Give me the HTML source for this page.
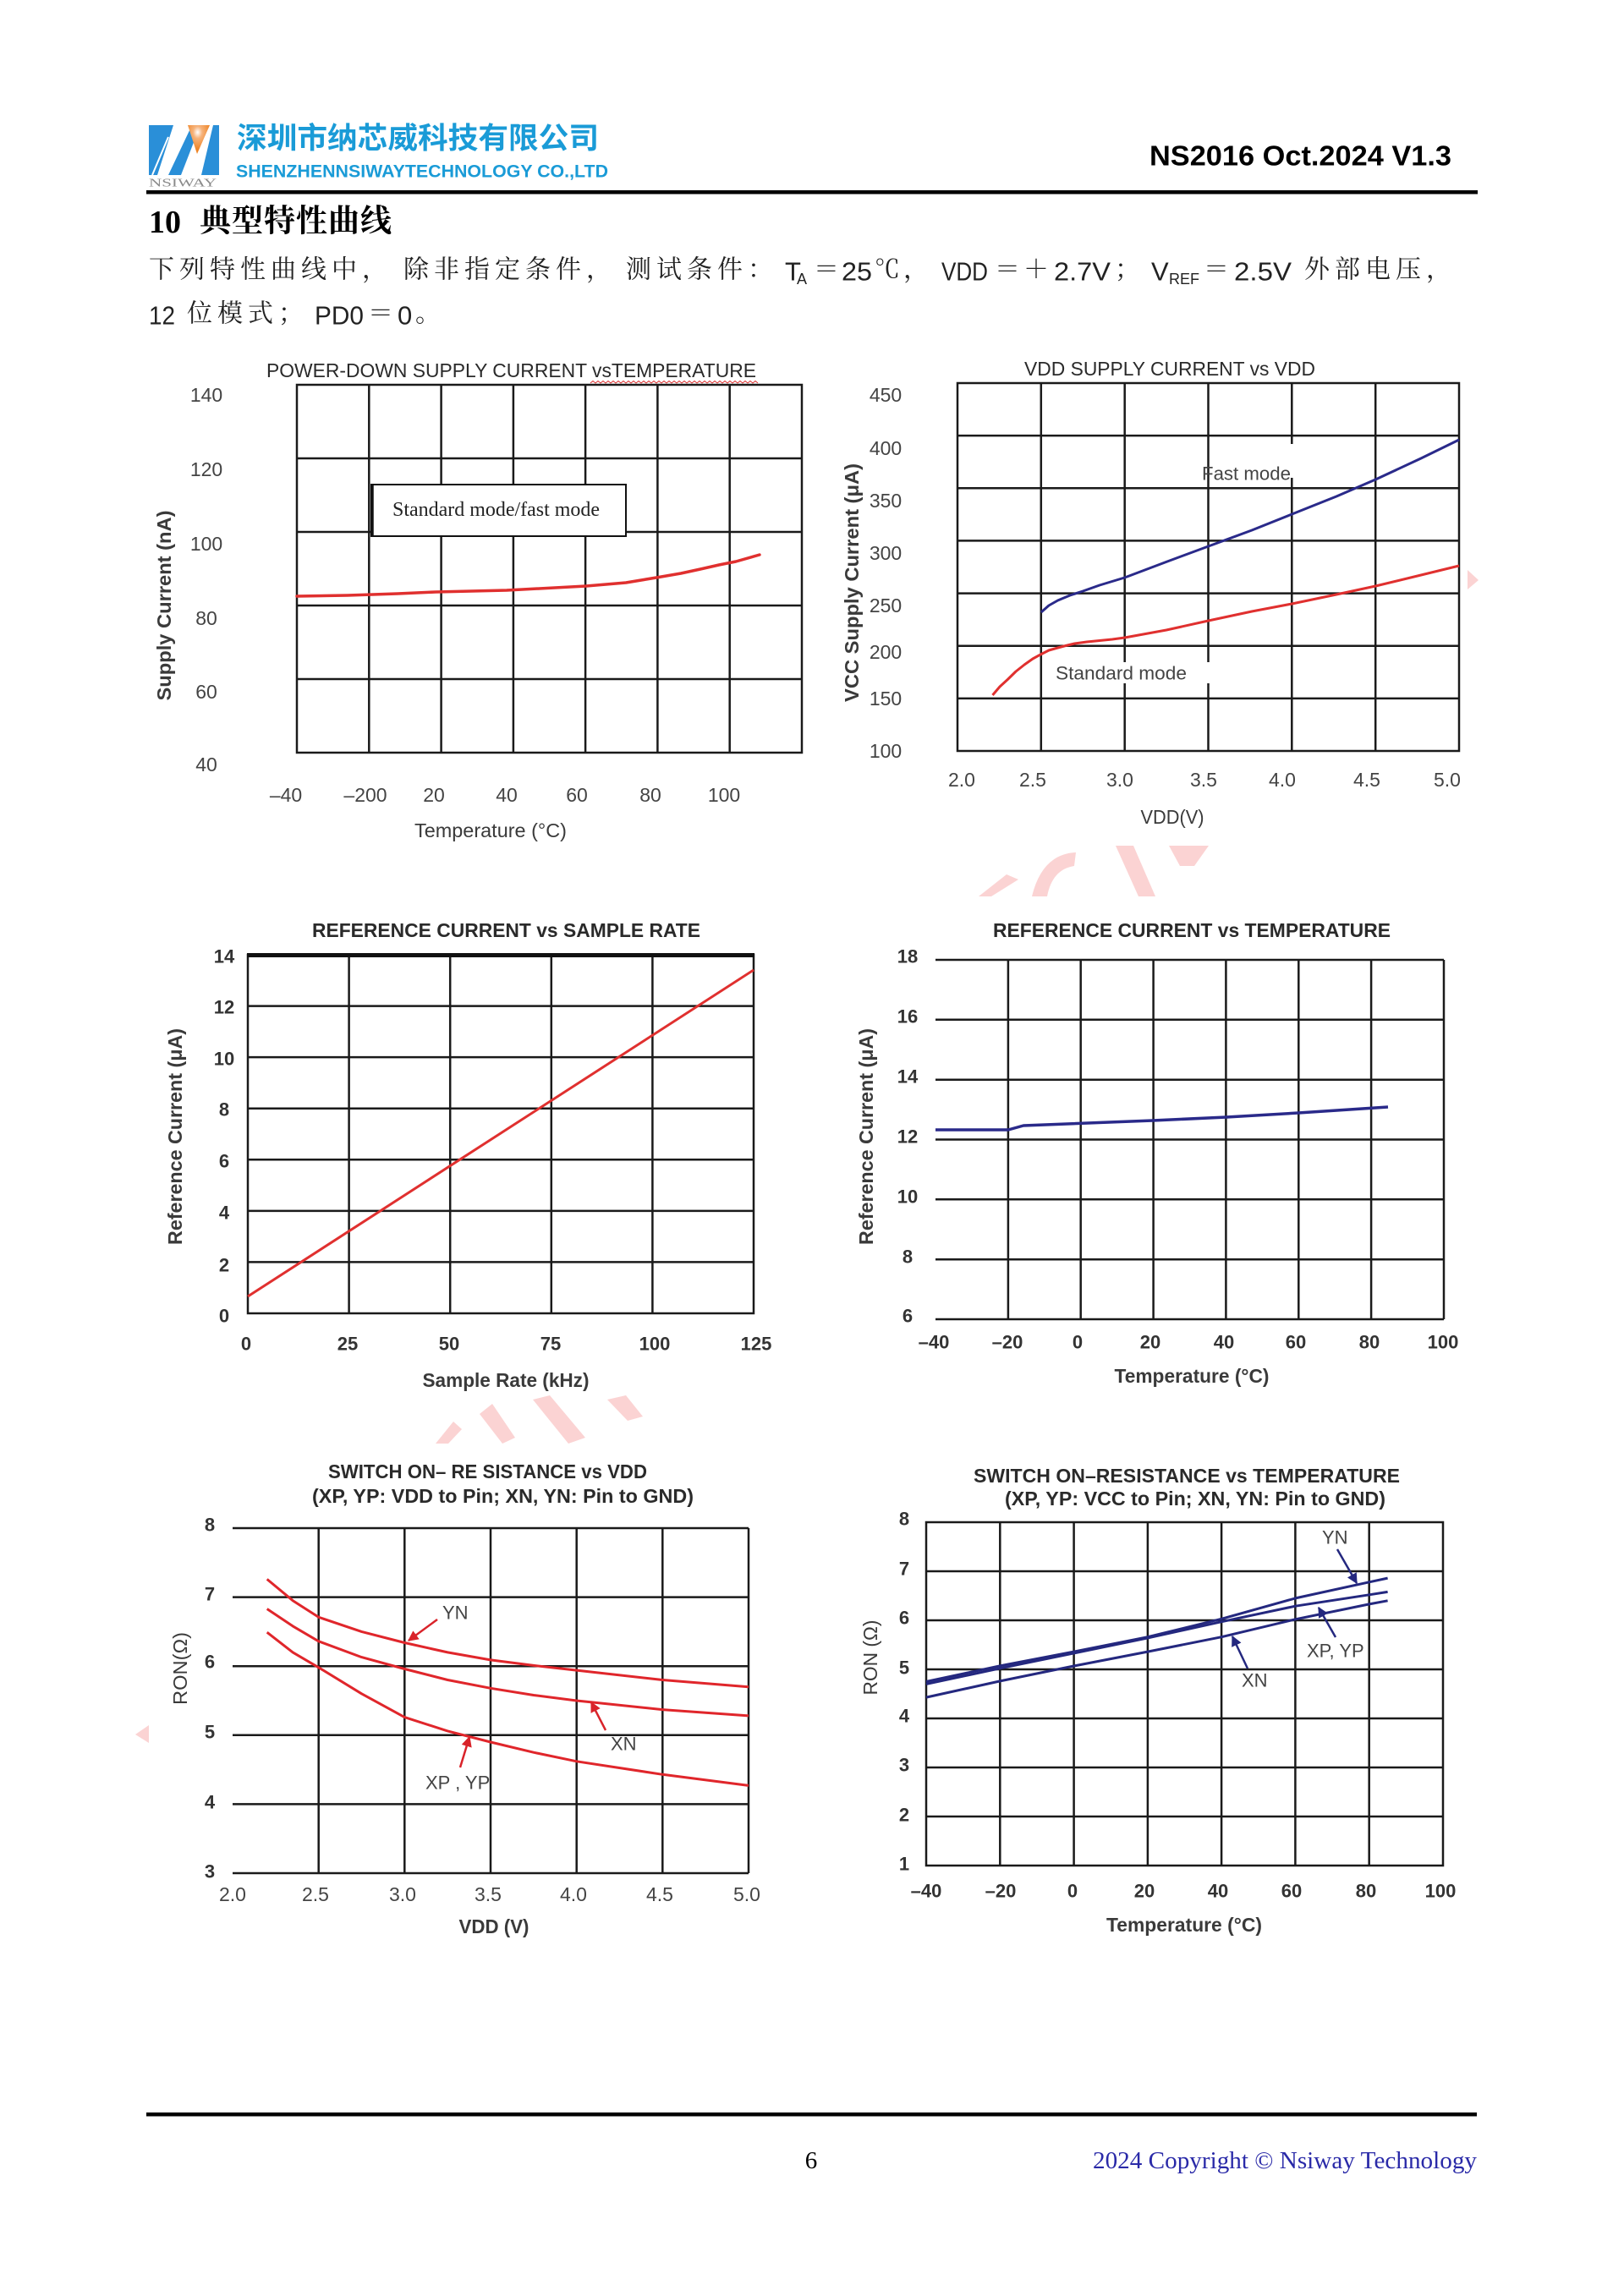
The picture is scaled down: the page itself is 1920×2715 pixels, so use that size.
<!DOCTYPE html>
<html>
<head>
<meta charset="utf-8">
<style>
html,body{margin:0;padding:0;background:#fff;}
svg{display:block;}
.s{font-family:"Liberation Sans",Arial,sans-serif;}
.sf{font-family:"Liberation Serif","Times New Roman",serif;}
.cjk{font-family:"Liberation Serif","Noto Serif CJK SC",serif;}
.cjks{font-family:"Liberation Sans","Noto Sans CJK SC",sans-serif;}
.tk{font-family:"Liberation Sans",Arial,sans-serif;font-size:23px;fill:#444;text-anchor:middle;dominant-baseline:central;}
.tkb{font-family:"Liberation Sans",Arial,sans-serif;font-size:22px;fill:#333;font-weight:bold;text-anchor:middle;dominant-baseline:central;}
.ttl{font-family:"Liberation Sans",Arial,sans-serif;font-size:23px;fill:#2a2a2a;dominant-baseline:central;}
.ax{font-family:"Liberation Sans",Arial,sans-serif;font-size:23px;fill:#3a3a3a;dominant-baseline:central;text-anchor:middle;}
.lb{font-family:"Liberation Sans",Arial,sans-serif;font-size:22px;fill:#444;dominant-baseline:central;}
.g{stroke:#1a1a1a;stroke-width:2.5;fill:none;}
</style>
</head>
<body>
<svg width="1920" height="2715" viewBox="0 0 1920 2715" xmlns="http://www.w3.org/2000/svg">
<defs>
<marker id="ar" viewBox="0 0 10 10" refX="9" refY="5" markerWidth="5" markerHeight="5" orient="auto"><path d="M0,0 L10,5 L0,10 z" fill="#d9232a"/></marker>
<marker id="ab" viewBox="0 0 10 10" refX="9" refY="5" markerWidth="5" markerHeight="5" orient="auto"><path d="M0,0 L10,5 L0,10 z" fill="#24287f"/></marker>
<radialGradient id="glow" cx="0.45" cy="0.25" r="0.6"><stop offset="0" stop-color="#fff"/><stop offset="0.35" stop-color="#f6b27a"/><stop offset="1" stop-color="#ee8425"/></radialGradient>
</defs>
<rect x="0" y="0" width="1920" height="2715" fill="#fff"/>

<!-- watermark fragments -->
<g fill="#fbd3d3">
<polygon points="1157,1060 1190,1034 1204,1040 1172,1060"/>
<path d="M1220,1060 Q1232,1010 1272,1008 L1270,1024 Q1244,1028 1238,1060 z"/>
<polygon points="1319,1000 1340,1000 1366,1060 1346,1060"/>
<polygon points="1382,1000 1429,1000 1412,1024 1395,1024"/>
<polygon points="515,1707 536,1681 546,1690 530,1707"/>
<polygon points="567,1672 582,1660 609,1700 594,1707"/>
<polygon points="630,1655 650,1650 692,1700 672,1707"/>
<polygon points="718,1655 740,1650 760,1675 742,1680"/>
<polygon points="1735,674 1748,686 1735,697"/>
<polygon points="176,2040 160,2051 176,2061"/>
</g>

<!-- HEADER -->
<g>
<polygon points="176,148 205,148 186,207 176,207" fill="#2a8fd8"/>
<polygon points="199,207 214,207 233,158 226,150" fill="#2a8fd8"/>
<polygon points="222,148 248,148 233,182" fill="url(#glow)"/>
<polygon points="238,207 259,207 259,148 252,148" fill="#2a8fd8"/>
<line x1="180" y1="207" x2="199" y2="162" stroke="#fff" stroke-width="2"/>
<text x="176" y="217" class="sf" font-size="14" fill="#8a8a8a" textLength="80" lengthAdjust="spacingAndGlyphs" dominant-baseline="central">NSIWAY</text>
</g>
<text x="280" y="164" class="cjks" font-size="35" font-weight="bold" fill="#1a9bd7" textLength="428" lengthAdjust="spacingAndGlyphs" dominant-baseline="central">深圳市纳芯威科技有限公司</text>
<text x="279" y="203" class="s" font-size="21" font-weight="bold" fill="#1a9bd7" textLength="440" lengthAdjust="spacingAndGlyphs" dominant-baseline="central">SHENZHENNSIWAYTECHNOLOGY CO.,LTD</text>
<text x="1359" y="184" class="s" font-size="33" font-weight="bold" fill="#000" textLength="357" lengthAdjust="spacingAndGlyphs" dominant-baseline="central">NS2016 Oct.2024 V1.3</text>
<rect x="173" y="225" width="1574" height="4.5" fill="#000"/>

<!-- Section heading -->
<text x="176" y="263" class="sf" font-size="38" font-weight="bold" fill="#000" dominant-baseline="central">10</text>
<text x="236 274 312 350 388 426" y="262" class="cjk" font-size="37" font-weight="bold" fill="#000" dominant-baseline="central">典型特性曲线</text>

<!-- Line 2 -->
<g fill="#222" dominant-baseline="central">
<text x="176 212 248 284 320 356 392 428" y="319" class="cjk" font-size="30">下列特性曲线中，</text>
<text x="477 513 549 585 621 657 693" y="319" class="cjk" font-size="30">除非指定条件，</text>
<text x="740 776 812 848 884" y="319" class="cjk" font-size="30">测试条件：</text>
<text x="928" y="321" class="s" font-size="31">T</text>
<text x="942" y="330" class="s" font-size="18">A</text>
<text x="962" y="319" class="cjk" font-size="30">＝</text>
<text x="995" y="321" class="s" font-size="31" textLength="36" lengthAdjust="spacingAndGlyphs">25</text>
<text x="1034" y="319" class="cjk" font-size="30">℃</text>
<text x="1068" y="319" class="cjk" font-size="30">，</text>
<text x="1113" y="321" class="s" font-size="31" textLength="55" lengthAdjust="spacingAndGlyphs">VDD</text>
<text x="1176" y="319" class="cjk" font-size="30">＝</text>
<text x="1210" y="319" class="cjk" font-size="30">＋</text>
<text x="1246" y="321" class="s" font-size="31" textLength="67" lengthAdjust="spacingAndGlyphs">2.7V</text>
<text x="1318" y="319" class="cjk" font-size="30">；</text>
<text x="1361" y="321" class="s" font-size="31">V</text>
<text x="1382" y="330" class="s" font-size="18" textLength="36" lengthAdjust="spacingAndGlyphs">REF</text>
<text x="1423" y="319" class="cjk" font-size="30">＝</text>
<text x="1459" y="321" class="s" font-size="31" textLength="68" lengthAdjust="spacingAndGlyphs">2.5V</text>
<text x="1542 1578 1614 1650 1686" y="319" class="cjk" font-size="30">外部电压，</text>
<!-- Line 3 -->
<text x="176" y="373" class="s" font-size="31" textLength="31" lengthAdjust="spacingAndGlyphs">12</text>
<text x="221 257 293 329" y="371" class="cjk" font-size="30">位模式；</text>
<text x="372" y="373" class="s" font-size="31" textLength="58" lengthAdjust="spacingAndGlyphs">PD0</text>
<text x="435" y="371" class="cjk" font-size="30">＝</text>
<text x="470" y="373" class="s" font-size="31">0</text>
<text x="491" y="371" class="cjk" font-size="30">。</text>
</g>

<!-- ============ CHART 1 ============ -->
<text x="315" y="438" class="ttl" textLength="579" lengthAdjust="spacingAndGlyphs">POWER-DOWN SUPPLY CURRENT vsTEMPERATURE</text>
<path d="M698,453 l3,-2.5 l3,2.5 l3,-2.5 l3,2.5 l3,-2.5 l3,2.5 l3,-2.5 l3,2.5 l3,-2.5 l3,2.5 l3,-2.5 l3,2.5 l3,-2.5 l3,2.5 l3,-2.5 l3,2.5 l3,-2.5 l3,2.5 l3,-2.5 l3,2.5 l3,-2.5 l3,2.5 l3,-2.5 l3,2.5 l3,-2.5 l3,2.5 l3,-2.5 l3,2.5 l3,-2.5 l3,2.5 l3,-2.5 l3,2.5 l3,-2.5 l3,2.5 l3,-2.5 l3,2.5 l3,-2.5 l3,2.5 l3,-2.5 l3,2.5 l3,-2.5 l3,2.5 l3,-2.5 l3,2.5 l3,-2.5 l3,2.5 l3,-2.5 l3,2.5 l3,-2.5 l3,2.5 l3,-2.5 l3,2.5 l3,-2.5 l3,2.5 l3,-2.5 l3,2.5 l3,-2.5 l3,2.5 l3,-2.5 l3,2.5 l3,-2.5 l3,2.5 l3,-2.5 l3,2.5 l3,-2.5 l3,2.5" stroke="#d33" stroke-width="1" fill="none"/>
<g class="g">
<rect x="351" y="455" width="597" height="435"/>
<path d="M436.3,455V890 M521.6,455V890 M606.9,455V890 M692.1,455V890 M777.4,455V890 M862.7,455V890"/>
<path d="M351,542H948 M351,629H948 M351,716H948 M351,803H948"/>
</g>
<rect x="439" y="573" width="301" height="61" fill="#fff" stroke="#111" stroke-width="2"/>
<line x1="440" y1="573" x2="440" y2="634" stroke="#111" stroke-width="3.5"/>
<text x="464" y="603" class="sf" font-size="24" fill="#222" textLength="245" lengthAdjust="spacingAndGlyphs" dominant-baseline="central">Standard  mode/fast mode</text>
<polyline points="351,705 411,704 470,702 515,700 599,698 693,693 740,689 776,683 805,678 828,673 850,668 870,664 898,656" fill="none" stroke="#e0302f" stroke-width="3.5" stroke-linejoin="round" stroke-linecap="round"/>
<g class="tk">
<text x="244" y="467">140</text><text x="244" y="555">120</text><text x="244" y="643">100</text>
<text x="244" y="731">80</text><text x="244" y="818">60</text><text x="244" y="904">40</text>
<text x="338" y="940">–40</text><text x="432" y="940">–200</text><text x="513" y="940">20</text>
<text x="599" y="940">40</text><text x="682" y="940">60</text><text x="769" y="940">80</text><text x="856" y="940">100</text>
</g>
<text x="580" y="982" class="ax" textLength="180" lengthAdjust="spacingAndGlyphs">Temperature (°C)</text>
<text x="0" y="0" class="ax" font-weight="bold" transform="translate(194,716) rotate(-90)" textLength="225" lengthAdjust="spacingAndGlyphs">Supply Current (nA)</text>

<!-- ============ CHART 2 ============ -->
<text x="1211" y="436" class="ttl" textLength="344" lengthAdjust="spacingAndGlyphs">VDD  SUPPLY CURRENT vs VDD</text>
<g class="g">
<rect x="1132" y="453" width="593" height="435"/>
<path d="M1230.8,453V888 M1329.7,453V888 M1428.5,453V888 M1527.3,453V888 M1626.2,453V888"/>
<path d="M1132,515.1H1725 M1132,577.3H1725 M1132,639.4H1725 M1132,701.6H1725 M1132,763.7H1725 M1132,825.9H1725"/>
</g>
<rect x="1244" y="783" width="188" height="25" fill="#fff"/>
<rect x="1520" y="525" width="12" height="40" fill="#fff"/>
<polyline points="1230.9,724 1240,716 1250.6,710 1265,704 1280.3,699 1300,692 1329.7,683 1380,664 1428.6,646 1480,627 1527.4,608 1580,587 1626.3,567 1680,542 1725,520" fill="none" stroke="#2a2a8a" stroke-width="3" stroke-linejoin="round"/>
<polyline points="1173.5,822 1182,812 1191.3,803.5 1201,794 1211.1,786 1221,779 1230.9,773.6 1240,769 1250.6,766 1260,763.5 1270.4,761 1285,759 1300,757.5 1315,756 1329.7,754 1379,745 1428.6,734 1480,723 1527.4,714 1580,703 1626.3,693 1680,680 1725,669" fill="none" stroke="#e0302f" stroke-width="3" stroke-linejoin="round"/>
<text x="1421" y="560" class="lb" textLength="105" lengthAdjust="spacingAndGlyphs">Fast mode</text>
<text x="1248" y="796" class="lb" textLength="155" lengthAdjust="spacingAndGlyphs">Standard mode</text>
<g class="tk">
<text x="1047" y="467">450</text><text x="1047" y="530">400</text><text x="1047" y="592">350</text>
<text x="1047" y="654">300</text><text x="1047" y="716">250</text><text x="1047" y="771">200</text>
<text x="1047" y="826">150</text><text x="1047" y="888">100</text>
<text x="1137" y="922">2.0</text><text x="1221" y="922">2.5</text><text x="1324" y="922">3.0</text>
<text x="1423" y="922">3.5</text><text x="1516" y="922">4.0</text><text x="1616" y="922">4.5</text><text x="1711" y="922">5.0</text>
</g>
<text x="1386" y="966" class="ax" textLength="75" lengthAdjust="spacingAndGlyphs">VDD(V)</text>
<text x="0" y="0" class="ax" font-weight="bold" transform="translate(1007,689) rotate(-90)" textLength="282" lengthAdjust="spacingAndGlyphs">VCC Supply Current (μA)</text>

<!-- ============ CHART 3 ============ -->
<text x="369" y="1100" class="ttl" font-weight="bold" textLength="459" lengthAdjust="spacingAndGlyphs">REFERENCE CURRENT vs SAMPLE RATE</text>
<g class="g">
<rect x="293" y="1129" width="598" height="424"/>
<path d="M412.6,1129V1553 M532.2,1129V1553 M651.8,1129V1553 M771.4,1129V1553"/>
<path d="M293,1189.6H891 M293,1250.1H891 M293,1310.7H891 M293,1371.3H891 M293,1431.9H891 M293,1492.4H891"/>
</g>
<rect x="292" y="1127" width="600" height="5" fill="#111"/>
<line x1="293" y1="1533" x2="891" y2="1147" stroke="#e0302f" stroke-width="3"/>
<g class="tkb">
<text x="265" y="1131">14</text><text x="265" y="1191">12</text><text x="265" y="1252">10</text>
<text x="265" y="1312">8</text><text x="265" y="1373">6</text><text x="265" y="1434">4</text>
<text x="265" y="1496">2</text><text x="265" y="1556">0</text>
<text x="291" y="1589">0</text><text x="411" y="1589">25</text><text x="531" y="1589">50</text>
<text x="651" y="1589">75</text><text x="774" y="1589">100</text><text x="894" y="1589">125</text>
</g>
<text x="598" y="1632" class="ax" font-weight="bold" textLength="197" lengthAdjust="spacingAndGlyphs">Sample Rate (kHz)</text>
<text x="0" y="0" class="ax" font-weight="bold" transform="translate(207,1344) rotate(-90)" textLength="256" lengthAdjust="spacingAndGlyphs">Reference Current (μA)</text>

<!-- ============ CHART 4 ============ -->
<text x="1174" y="1100" class="ttl" font-weight="bold" textLength="470" lengthAdjust="spacingAndGlyphs">REFERENCE CURRENT vs TEMPERATURE</text>
<g class="g">
<path d="M1106,1135H1707 M1106,1205.8H1707 M1106,1276.7H1707 M1106,1347.5H1707 M1106,1418.3H1707 M1106,1489.2H1707 M1106,1560H1707"/>
<path d="M1191.9,1135V1560 M1277.7,1135V1560 M1363.6,1135V1560 M1449.4,1135V1560 M1535.3,1135V1560 M1621.1,1135V1560 M1707,1135V1560"/>
</g>
<polyline points="1106,1336 1192,1336 1210,1331 1363,1325 1450,1321 1535,1316 1641,1309" fill="none" stroke="#2a2a8a" stroke-width="3.5" stroke-linejoin="round"/>
<g class="tkb">
<text x="1073" y="1131">18</text><text x="1073" y="1202">16</text><text x="1073" y="1273">14</text>
<text x="1073" y="1344">12</text><text x="1073" y="1415">10</text><text x="1073" y="1486">8</text><text x="1073" y="1556">6</text>
<text x="1104" y="1587">–40</text><text x="1191" y="1587">–20</text><text x="1274" y="1587">0</text>
<text x="1360" y="1587">20</text><text x="1447" y="1587">40</text><text x="1532" y="1587">60</text>
<text x="1619" y="1587">80</text><text x="1706" y="1587">100</text>
</g>
<text x="1409" y="1627" class="ax" font-weight="bold" textLength="183" lengthAdjust="spacingAndGlyphs">Temperature (°C)</text>
<text x="0" y="0" class="ax" font-weight="bold" transform="translate(1024,1344) rotate(-90)" textLength="256" lengthAdjust="spacingAndGlyphs">Reference Current (μA)</text>

<!-- ============ CHART 5 ============ -->
<text x="388" y="1740" class="ttl" font-weight="bold" font-size="22" textLength="377" lengthAdjust="spacingAndGlyphs">SWITCH ON– RE SISTANCE vs  VDD</text>
<text x="369" y="1769" class="ttl" font-weight="bold" font-size="22" textLength="451" lengthAdjust="spacingAndGlyphs">(XP, YP: VDD to Pin; XN, YN: Pin to GND)</text>
<g class="g">
<path d="M275,1807H885 M275,1888.6H885 M275,1970.2H885 M275,2051.8H885 M275,2133.4H885 M275,2215H885"/>
<path d="M376.7,1807V2215 M478.3,1807V2215 M580,1807V2215 M681.7,1807V2215 M783.3,1807V2215 M885,1807V2215"/>
</g>
<g fill="none" stroke="#e0262b" stroke-width="3" stroke-linejoin="round">
<polyline points="315.7,1867.4 346.2,1892.7 376.7,1912.3 427.5,1929.4 478.3,1942.5 529.2,1953.9 580,1962.9 630.8,1969.4 681.7,1975.1 783.3,1986.5 885,1994.7"/>
<polyline points="315.7,1902.5 346.2,1922.9 376.7,1940.8 427.5,1959.6 478.3,1973.5 529.2,1986.5 580,1996.3 630.8,2004.5 681.7,2011 783.3,2021.6 885,2028.9"/>
<polyline points="315.7,1930.2 346.2,1953.9 376.7,1971.8 427.5,2002.8 478.3,2030.6 529.2,2046.9 580,2060 630.8,2072.2 681.7,2082.8 783.3,2098.3 885,2111.4"/>
</g>
<g stroke="#d9232a" stroke-width="2.5" fill="none">
<line x1="517" y1="1915" x2="483" y2="1940" marker-end="url(#ar)"/>
<line x1="716" y1="2046" x2="699" y2="2013" marker-end="url(#ar)"/>
<line x1="544" y1="2090" x2="555" y2="2054" marker-end="url(#ar)"/>
</g>
<text x="523" y="1907" class="lb">YN</text>
<text x="722" y="2062" class="lb">XN</text>
<text x="503" y="2108" class="lb">XP , YP</text>
<g class="tkb">
<text x="248" y="1803">8</text><text x="248" y="1885">7</text><text x="248" y="1965">6</text>
<text x="248" y="2048">5</text><text x="248" y="2131">4</text><text x="248" y="2213">3</text>
</g>
<g class="tk" font-size="22">
<text x="275" y="2240">2.0</text><text x="373" y="2240">2.5</text><text x="476" y="2240">3.0</text>
<text x="577" y="2240">3.5</text><text x="678" y="2240">4.0</text><text x="780" y="2240">4.5</text><text x="883" y="2240">5.0</text>
</g>
<text x="584" y="2278" class="ax" font-weight="bold" textLength="83" lengthAdjust="spacingAndGlyphs">VDD (V)</text>
<text x="0" y="0" class="ax" transform="translate(213,1973) rotate(-90)" textLength="86" lengthAdjust="spacingAndGlyphs">RON(Ω)</text>

<!-- ============ CHART 6 ============ -->
<text x="1151" y="1745" class="ttl" font-weight="bold" font-size="22" textLength="504" lengthAdjust="spacingAndGlyphs">SWITCH ON–RESISTANCE vs TEMPERATURE</text>
<text x="1188" y="1772" class="ttl" font-weight="bold" font-size="22" textLength="450" lengthAdjust="spacingAndGlyphs">(XP, YP: VCC to Pin; XN, YN: Pin to GND)</text>
<g class="g">
<rect x="1095" y="1800" width="611" height="406"/>
<path d="M1182.3,1800V2206 M1269.6,1800V2206 M1356.9,1800V2206 M1444.1,1800V2206 M1531.4,1800V2206 M1618.7,1800V2206"/>
<path d="M1095,1858H1706 M1095,1916H1706 M1095,1974H1706 M1095,2032H1706 M1095,2090H1706 M1095,2148H1706"/>
</g>
<g fill="none" stroke="#24287f" stroke-width="3" stroke-linejoin="round">
<polyline points="1095,1988.5 1182.3,1969.9 1269.6,1953.1 1356.9,1935.7 1444.2,1914.3 1531.5,1889.9 1618.8,1870.8 1640.6,1866.1"/>
<polyline points="1095,1991.4 1182.3,1972.8 1269.6,1954.9 1356.9,1936.9 1444.2,1917.7 1531.5,1899.2 1618.8,1885.8 1640.6,1882.4"/>
<polyline points="1095,2007.1 1182.3,1987.9 1269.6,1970 1356.9,1953.1 1444.2,1935.7 1531.5,1914.8 1618.8,1896.9 1640.6,1892.8"/>
</g>
<g stroke="#24287f" stroke-width="2.5" fill="none">
<line x1="1581" y1="1832" x2="1604" y2="1872" marker-end="url(#ab)"/>
<line x1="1579" y1="1936" x2="1559" y2="1901" marker-end="url(#ab)"/>
<line x1="1475" y1="1973" x2="1457" y2="1935" marker-end="url(#ab)"/>
</g>
<text x="1563" y="1818" class="lb">YN</text>
<text x="1545" y="1952" class="lb">XP, YP</text>
<text x="1468" y="1987" class="lb">XN</text>
<g class="tkb">
<text x="1069" y="1796">8</text><text x="1069" y="1855">7</text><text x="1069" y="1913">6</text>
<text x="1069" y="1972">5</text><text x="1069" y="2029">4</text><text x="1069" y="2087">3</text>
<text x="1069" y="2146">2</text><text x="1069" y="2204">1</text>
<text x="1095" y="2236">–40</text><text x="1183" y="2236">–20</text><text x="1268" y="2236">0</text>
<text x="1353" y="2236">20</text><text x="1440" y="2236">40</text><text x="1527" y="2236">60</text>
<text x="1615" y="2236">80</text><text x="1703" y="2236">100</text>
</g>
<text x="1400" y="2276" class="ax" font-weight="bold" textLength="184" lengthAdjust="spacingAndGlyphs">Temperature (°C)</text>
<text x="0" y="0" class="ax" transform="translate(1029,1960) rotate(-90)" textLength="89" lengthAdjust="spacingAndGlyphs">RON (Ω)</text>

<!-- FOOTER -->
<rect x="173" y="2498" width="1573" height="4.5" fill="#000"/>
<text x="959" y="2555" class="sf" font-size="29" fill="#000" text-anchor="middle" dominant-baseline="central">6</text>
<text x="1292" y="2555" class="sf" font-size="29" fill="#2a2aa8" textLength="454" lengthAdjust="spacingAndGlyphs" dominant-baseline="central">2024 Copyright © Nsiway Technology</text>
</svg>
</body>
</html>
